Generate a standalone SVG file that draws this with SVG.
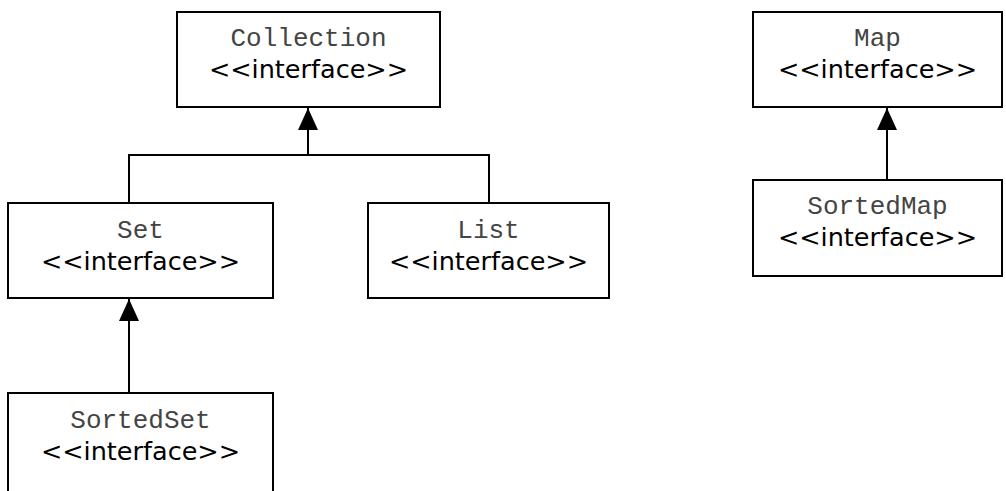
<svg xmlns="http://www.w3.org/2000/svg" width="1006" height="491" viewBox="0 0 1006 491">
<defs>
<style>
.box{fill:#fff;stroke:#000;stroke-width:2}
.name{font-family:"Liberation Mono","Courier New",monospace;font-size:26px;fill:#444;text-anchor:middle}
.st{font-family:"DejaVu Sans",Verdana,sans-serif;font-size:25.5px;fill:#000;text-anchor:middle}
.ln{fill:none;stroke:#000;stroke-width:2}
</style>
<marker id="tri" viewBox="0 0 22 20" refX="22" refY="10" markerWidth="22" markerHeight="20" markerUnits="userSpaceOnUse" orient="auto">
<path d="M0,0 L22,10 L0,20 Z" fill="#000"/>
</marker>
</defs>
<rect width="1006" height="491" fill="#fff"/>
<g id="connectors">
<polyline class="ln" points="129,203 129,155 489,155 489,203"/>
<line class="ln" x1="308" y1="155" x2="308" y2="108" marker-end="url(#tri)"/>
<line class="ln" x1="129" y1="393" x2="129" y2="299" marker-end="url(#tri)"/>
<line class="ln" x1="887" y1="180" x2="887" y2="108" marker-end="url(#tri)"/>
</g>
<g id="collection">
<rect class="box" x="177" y="12" width="263" height="95"/>
<text class="name" x="308.5" y="46">Collection</text>
<text class="st" x="308.5" y="78">&lt;&lt;interface&gt;&gt;</text>
</g>
<g id="set">
<rect class="box" x="8" y="203" width="265" height="95"/>
<text class="name" x="140.5" y="238">Set</text>
<text class="st" x="140.5" y="270">&lt;&lt;interface&gt;&gt;</text>
</g>
<g id="list">
<rect class="box" x="368" y="203" width="241" height="95"/>
<text class="name" x="488.5" y="238">List</text>
<text class="st" x="488.5" y="270">&lt;&lt;interface&gt;&gt;</text>
</g>
<g id="sortedset">
<rect class="box" x="8" y="393" width="265" height="100"/>
<text class="name" x="140.5" y="428">SortedSet</text>
<text class="st" x="140.5" y="460">&lt;&lt;interface&gt;&gt;</text>
</g>
<g id="map">
<rect class="box" x="753" y="12" width="249" height="95"/>
<text class="name" x="877.5" y="46">Map</text>
<text class="st" x="877.5" y="78">&lt;&lt;interface&gt;&gt;</text>
</g>
<g id="sortedmap">
<rect class="box" x="753" y="180" width="249" height="96"/>
<text class="name" x="877.5" y="214">SortedMap</text>
<text class="st" x="877.5" y="246">&lt;&lt;interface&gt;&gt;</text>
</g>
</svg>
